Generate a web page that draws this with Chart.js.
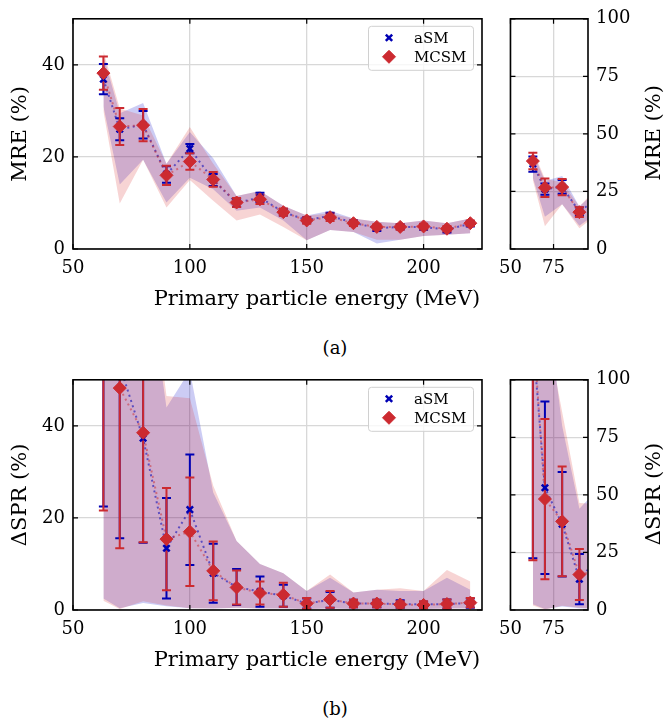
<!DOCTYPE html>
<html>
<head>
<meta charset="utf-8">
<script src="https://cdn.jsdelivr.net/npm/chart.js@4.4.1/dist/chart.umd.min.js"></script>
<style>
  body { margin: 0; background: #fff; }
  #wrap { position: relative; width: 667px; height: 719px; font-family: "DejaVu Serif", serif; color: #000; }
  canvas { position: absolute; }
  .lbl { position: absolute; font-size: 21px; white-space: nowrap; transform: translate(-50%, -50%); }
  .rot { transform: translate(-50%, -50%) rotate(-90deg); }
  .cap { font-size: 18px; }
</style>
</head>
<body>
<div id="wrap">
  <canvas id="mreMain" width="500" height="320" style="left:0px;top:0px"></canvas>
  <canvas id="mreInset" width="177" height="320" style="left:490px;top:0px"></canvas>
  <canvas id="sprMain" width="500" height="320" style="left:0px;top:361px"></canvas>
  <canvas id="sprInset" width="177" height="320" style="left:490px;top:361px"></canvas>
  <div class="lbl" style="left:317px;top:298px">Primary particle energy (MeV)</div>
  <div class="lbl" style="left:317px;top:659px">Primary particle energy (MeV)</div>
  <div class="lbl rot" style="left:653px;top:133px">MRE (%)</div>
  <div class="lbl rot" style="left:653px;top:494px">ΔSPR (%)</div>
  <div class="lbl cap" style="left:335px;top:347px">(a)</div>
  <div class="lbl cap" style="left:335px;top:708px">(b)</div>
</div>
<script>
// primary particle energies (MeV)
const energy = [63, 70, 80, 90, 100, 110, 120, 130, 140, 150, 160, 170, 180, 190, 200, 210, 220];

// (a) mean relative error
const mreMcsm = [38.2, 26.6, 26.9, 16.0, 19.0, 15.1, 10.1, 10.8, 8.0, 6.2, 6.9, 5.6, 4.8, 4.8, 4.9, 4.4, 5.6];
const mreMcsmErr = [3.6, 4.0, 3.5, 2.1, 1.8, 1.6, 1.0, 1.0, 0.8, 0.7, 0.8, 0.6, 0.6, 0.6, 0.6, 0.6, 0.6];
const mreAsm = [36.9, 26.0, 27.0, 16.2, 21.8, 15.0, 10.0, 11.2, 8.0, 6.3, 7.2, 5.7, 4.5, 4.8, 4.8, 4.2, 5.5];
const mreAsmErr = [3.3, 2.4, 3.0, 1.8, 1.0, 1.3, 0.9, 1.0, 0.7, 0.6, 0.7, 0.5, 0.6, 0.5, 0.6, 0.6, 0.6];
const mreAsmLo = [31, 14.0, 19.4, 10.1, 15.5, 13.0, 8.3, 9.0, 6.2, 1.9, 4.1, 3.7, 1.2, 2.0, 2.8, 3.1, 3.4];
const mreAsmHi = [42, 29.5, 31.7, 18.5, 25.4, 19.7, 11.5, 12.6, 9.4, 7.3, 8.3, 6.6, 5.9, 5.6, 6.2, 5.6, 6.6];
const mreMcsmLo = [30, 9.9, 19.4, 9.0, 15.0, 10.5, 6.2, 7.5, 4.8, 1.9, 4.1, 3.7, 2.0, 2.0, 2.8, 3.1, 3.4];
const mreMcsmHi = [43, 30.5, 29.0, 18.5, 26.5, 18.5, 11.5, 12.6, 9.4, 7.3, 7.7, 6.6, 5.9, 5.6, 6.2, 5.6, 6.6];

// (b) stopping power ratio deviation
const sprMcsm = [125, 48.2, 38.5, 15.4, 17.0, 8.5, 4.9, 3.7, 3.3, 1.4, 2.3, 1.4, 1.4, 1.2, 1.1, 1.3, 1.6];
const sprMcsmErr = [103.4, 34.8, 23.8, 11.1, 11.8, 6.4, 3.7, 2.5, 2.6, 1.2, 1.8, 0.8, 0.8, 0.7, 0.8, 1.0, 1.0];
const sprAsm = [118, 53.1, 37.3, 13.4, 21.8, 8.0, 5.0, 4.0, 3.1, 1.4, 2.2, 1.4, 1.4, 1.3, 1.2, 1.3, 1.5];
const sprAsmErr = [95.5, 37.5, 22.7, 10.9, 12.0, 6.4, 3.9, 3.3, 2.4, 1.1, 1.7, 0.8, 0.8, 0.8, 0.6, 1.0, 1.0];
const sprAsmLo = [2.5, 0.4, 1.5, 0.8, 0.4, 0.3, 0.5, 0.3, 0.3, 0.2, 0.3, 0.2, 0.2, 0.2, 0.2, 0.3, 0.3];
const sprAsmHi = [200, 140, 80, 44, 52, 25.5, 15, 10, 8, 4.1, 7.0, 3.8, 4.4, 4.1, 4.1, 7.0, 4.4];
const sprMcsmLo = [2.0, 0.2, 1.9, 1.0, 0.4, 0.3, 0.5, 0.3, 0.3, 0.2, 0.3, 0.2, 0.2, 0.2, 0.2, 0.3, 0.3];
const sprMcsmHi = [210, 126, 86, 46.5, 46, 27, 15, 10, 8, 4.1, 7.7, 3.8, 4.4, 4.7, 4.1, 8.7, 6.2];

const BLUE = '#0000b4';
const RED = '#cc2a30';
const FONT = "'DejaVu Serif', serif";

const xy = (ys) => energy.map((e, i) => ({ x: e, y: ys[i] }));

// error bars under the markers
const errorBars = {
  id: 'errorBars',
  beforeDatasetDraw(chart, args, opts) {
    if (!chart.data.datasets[args.index].errFirst) return;
    const { ctx, chartArea: a, scales: { x, y } } = chart;
    ctx.save();
    ctx.beginPath();
    ctx.rect(a.left, a.top, a.right - a.left, a.bottom - a.top);
    ctx.clip();
    opts.series.forEach((s) => {
      ctx.strokeStyle = s.color;
      ctx.lineWidth = 2;
      energy.forEach((e, i) => {
        const px = x.getPixelForValue(e);
        const top = y.getPixelForValue(s.values[i] + s.errors[i]);
        const bot = y.getPixelForValue(s.values[i] - s.errors[i]);
        ctx.beginPath();
        ctx.moveTo(px, top); ctx.lineTo(px, bot);
        ctx.moveTo(px - 4.5, top); ctx.lineTo(px + 4.5, top);
        ctx.moveTo(px - 4.5, bot); ctx.lineTo(px + 4.5, bot);
        ctx.stroke();
      });
    });
    ctx.restore();
  }
};

// axes box with inward ticks on every side
const frame = {
  id: 'frame',
  afterDatasetsDraw(chart) {
    const { ctx, chartArea: a, scales: { x, y } } = chart;
    ctx.save();
    ctx.strokeStyle = '#000';
    ctx.lineWidth = 1.6;
    ctx.strokeRect(a.left, a.top, a.right - a.left, a.bottom - a.top);
    ctx.lineWidth = 1.2;
    ctx.beginPath();
    x.ticks.forEach((t) => {
      const px = x.getPixelForValue(t.value);
      ctx.moveTo(px, a.bottom); ctx.lineTo(px, a.bottom - 5);
      ctx.moveTo(px, a.top); ctx.lineTo(px, a.top + 5);
    });
    y.ticks.forEach((t) => {
      const py = y.getPixelForValue(t.value);
      ctx.moveTo(a.left, py); ctx.lineTo(a.left + 5, py);
      ctx.moveTo(a.right, py); ctx.lineTo(a.right - 5, py);
    });
    ctx.stroke();
    ctx.restore();
  }
};

const boxLegend = {
  id: 'boxLegend',
  afterDraw(chart, args, opts) {
    if (!opts.show) return;
    const { ctx, chartArea: a } = chart;
    const w = 105, h = 44, L = a.right - 9 - w, T = a.top + 7;
    ctx.save();
    ctx.fillStyle = 'rgba(255,255,255,0.8)';
    ctx.strokeStyle = '#d0d0d0';
    ctx.lineWidth = 1;
    ctx.beginPath();
    ctx.roundRect(L + 0.5, T + 0.5, w, h, 3);
    ctx.fill();
    ctx.stroke();
    const items = chart.data.datasets.filter((d) => d.label);
    items.forEach((d, i) => {
      const cy = T + 12 + i * 19;
      ctx.fillStyle = d.backgroundColor;
      ctx.strokeStyle = d.borderColor;
      ctx.lineWidth = d.borderWidth;
      Chart.helpers.drawPoint(ctx, {
        pointStyle: d.pointStyle, radius: d.pointRadius, rotation: 0, borderWidth: d.borderWidth
      }, L + 21, cy);
      ctx.fillStyle = '#000';
      ctx.font = "15px " + FONT;
      ctx.textBaseline = 'middle';
      ctx.fillText(d.label, L + 46, cy + 1);
    });
    ctx.restore();
  }
};

function makeChart(id, p) {
  const inset = p.inset;
  const keep = (step) => (s) => { s.ticks = s.ticks.filter((t) => Math.abs(t.value % step) < 1e-9); };
  return new Chart(document.getElementById(id), {
    type: 'line',
    data: {
      datasets: [
        { data: xy(p.asmLo), borderWidth: 0, pointRadius: 0, fill: false, order: 40 },
        { data: xy(p.asmHi), borderWidth: 0, pointRadius: 0, fill: '-1', backgroundColor: 'rgba(0,0,200,0.2)', order: 40 },
        { data: xy(p.mcsmLo), borderWidth: 0, pointRadius: 0, fill: false, order: 30 },
        { data: xy(p.mcsmHi), borderWidth: 0, pointRadius: 0, fill: '-1', backgroundColor: 'rgba(214,39,40,0.2)', order: 30 },
        { data: xy(p.asm), borderColor: 'rgba(0,0,180,0.55)', borderWidth: 2, borderDash: [2, 3.5], pointRadius: 0, fill: false, order: 20 },
        { data: xy(p.mcsm), borderColor: 'rgba(204,42,48,0.5)', borderWidth: 2, borderDash: [2, 3.5], borderDashOffset: 2.5, pointRadius: 0, fill: false, order: 19 },
        { label: 'aSM', data: xy(p.asm), showLine: false, pointStyle: 'crossRot', pointRadius: 4.5, pointHoverRadius: 4.5,
          borderColor: BLUE, backgroundColor: BLUE, borderWidth: 2.5, order: 2, errFirst: true },
        { label: 'MCSM', data: xy(p.mcsm), showLine: false, pointStyle: 'rectRot', pointRadius: 6.5, pointHoverRadius: 6.5,
          borderColor: RED, backgroundColor: RED, borderWidth: 1, order: 1 }
      ]
    },
    options: {
      responsive: false,
      animation: false,
      events: [],
      layout: { padding: inset ? { top: 15, left: 17, right: 0, bottom: 0 } : { top: 15, left: 0, right: 18, bottom: 0 } },
      plugins: {
        legend: { display: false },
        tooltip: { enabled: false },
        errorBars: { series: [
          { values: p.asm, errors: p.asmErr, color: BLUE },
          { values: p.mcsm, errors: p.mcsmErr, color: RED }
        ] },
        boxLegend: { show: !inset }
      },
      scales: {
        x: {
          type: 'linear',
          min: 50,
          max: p.xMax,
          afterBuildTicks: keep(p.xStep),
          afterFit: (s) => { s.height = 71; },
          ticks: { stepSize: p.xStep, color: '#000', padding: 9, maxRotation: 0, font: { family: FONT, size: 18 } },
          grid: { color: '#d8d8d8', lineWidth: 1.3, drawTicks: false },
          border: { display: false }
        },
        y: {
          position: inset ? 'right' : 'left',
          min: 0,
          max: p.yMax,
          afterBuildTicks: keep(p.yStep),
          afterFit: (s) => { s.width = inset ? 79 : 73; },
          ticks: { stepSize: p.yStep, color: '#000', padding: 8, font: { family: FONT, size: 18 } },
          grid: { color: '#d8d8d8', lineWidth: 1.3, drawTicks: false },
          border: { display: false },
          title: {
            display: !inset, text: p.yTitle, color: '#000',
            font: { family: FONT, size: 21 }, padding: { top: 7.5, bottom: 0 }
          }
        }
      }
    },
    plugins: [errorBars, frame, boxLegend]
  });
}

const mreSet = { mcsm: mreMcsm, mcsmErr: mreMcsmErr, asm: mreAsm, asmErr: mreAsmErr,
  asmLo: mreAsmLo, asmHi: mreAsmHi, mcsmLo: mreMcsmLo, mcsmHi: mreMcsmHi, yTitle: 'MRE (%)' };
const sprSet = { mcsm: sprMcsm, mcsmErr: sprMcsmErr, asm: sprAsm, asmErr: sprAsmErr,
  asmLo: sprAsmLo, asmHi: sprAsmHi, mcsmLo: sprMcsmLo, mcsmHi: sprMcsmHi, yTitle: 'ΔSPR (%)' };

makeChart('mreMain', { ...mreSet, xMax: 225, xStep: 50, yMax: 50, yStep: 20 });
makeChart('mreInset', { ...mreSet, inset: true, xMax: 95, xStep: 25, yMax: 100, yStep: 25 });
makeChart('sprMain', { ...sprSet, xMax: 225, xStep: 50, yMax: 50, yStep: 20 });
makeChart('sprInset', { ...sprSet, inset: true, xMax: 95, xStep: 25, yMax: 100, yStep: 25 });
</script>
</body>
</html>
